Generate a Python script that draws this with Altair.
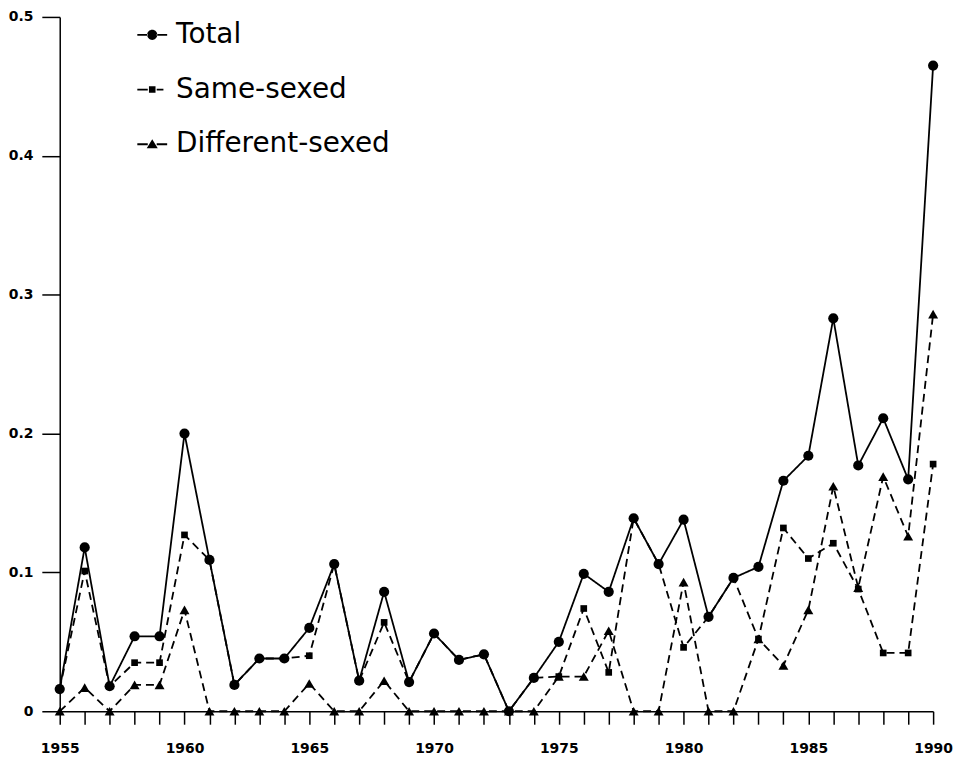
import altair as alt
import pandas as pd

years = list(range(1955, 1991))

total = [0.016, 0.118, 0.018, 0.054, 0.054, 0.200, 0.109, 0.019, 0.038, 0.038,
         0.060, 0.106, 0.022, 0.086, 0.021, 0.056, 0.037, 0.041, 0.000, 0.024,
         0.050, 0.099, 0.086, 0.139, 0.106, 0.138, 0.068, 0.096, 0.104, 0.166,
         0.184, 0.283, 0.177, 0.211, 0.167, 0.465]

same_sexed = [0.016, 0.101, 0.018, 0.035, 0.035, 0.127, 0.109, 0.019, 0.038, 0.038,
              0.040, 0.106, 0.022, 0.064, 0.021, 0.056, 0.037, 0.041, 0.000, 0.024,
              0.025, 0.074, 0.028, 0.139, 0.106, 0.046, 0.068, 0.096, 0.052, 0.132,
              0.110, 0.121, 0.088, 0.042, 0.042, 0.178]

different_sexed = [0.000, 0.017, 0.000, 0.019, 0.019, 0.073, 0.000, 0.000, 0.000, 0.000,
                   0.020, 0.000, 0.000, 0.022, 0.000, 0.000, 0.000, 0.000, 0.000, 0.000,
                   0.025, 0.025, 0.058, 0.000, 0.000, 0.093, 0.000, 0.000, 0.052, 0.033,
                   0.073, 0.162, 0.089, 0.169, 0.126, 0.286]

series_names = ["Total", "Same-sexed", "Different-sexed"]
y_ticks = [0, 0.1, 0.2, 0.3, 0.4, 0.5]

rows = []
for name, vals in zip(series_names, [total, same_sexed, different_sexed]):
    for yr, v in zip(years, vals):
        rows.append({"year": yr, "value": v, "series": name})
df = pd.DataFrame(rows)

x_enc = alt.X("year:Q", scale=alt.Scale(domain=[1955, 1990], nice=False, zero=False),
              axis=alt.Axis(title=None, values=years, format="d",
                            labelExpr="datum.value % 5 == 0 ? datum.label : ''",
                            tickSize=13, labelPadding=17, labelFlush=False))
y_enc = alt.Y("value:Q", scale=alt.Scale(domain=[0, 0.5], nice=False),
              axis=alt.Axis(title=None, values=y_ticks, format=".1~f",
                            tickSize=18, labelPadding=9, labelFlush=False))

lines = alt.Chart(df).mark_line(color="black", strokeWidth=1.8).encode(
    x=x_enc, y=y_enc,
    detail="series:N",
    strokeDash=alt.StrokeDash("series:N",
                              scale=alt.Scale(domain=series_names, range=[[1, 0], [8, 5], [8, 5]]),
                              legend=None),
)

points = alt.Chart(df).mark_point(filled=True, color="black", opacity=1).encode(
    x=x_enc, y=y_enc,
    shape=alt.Shape("series:N",
                    scale=alt.Scale(domain=series_names, range=["circle", "square", "triangle-up"]),
                    legend=None),
    size=alt.Size("series:N",
                  scale=alt.Scale(type="ordinal", domain=series_names, range=[105, 45, 100]),
                  legend=None),
)

# legend glyphs: short line segments (thin filled bars) with the marker in the middle
p_total = ("M-1,-0.06H-0.3V0.06H-1Z M0.3,-0.06H1V0.06H0.3Z "
           "M-0.34,0A0.34,0.34 0 1,0 0.34,0A0.34,0.34 0 1,0 -0.34,0Z")
p_same = ("M-1,-0.06H-0.3V0.06H-1Z M0.3,-0.06H0.75V0.06H0.3Z "
          "M-0.22,-0.22H0.22V0.22H-0.22Z")
p_diff = ("M-1,-0.06H-0.3V0.06H-1Z M0.3,-0.06H1V0.06H0.3Z "
          "M0,-0.34L0.37,0.26L-0.37,0.26Z")

legend_layer = alt.Chart(df).mark_point(filled=True, color="black", opacity=0, size=900).encode(
    x=x_enc, y=y_enc,
    shape=alt.Shape("series:N",
                    scale=alt.Scale(domain=series_names, range=[p_total, p_same, p_diff]),
                    legend=alt.Legend(title=None, orient="none", legendX=78, legendY=3,
                                      padding=0, symbolSize=900, rowPadding=26,
                                      labelOffset=9, labelFont="DejaVu Sans",
                                      labelFontSize=28, labelColor="black", labelLimit=0,
                                      symbolStrokeColor="black", symbolFillColor="black",
                                      symbolStrokeWidth=0, symbolOpacity=1)),
)

chart = alt.layer(lines, points, legend_layer).resolve_scale(shape="independent").properties(
    width=878, height=698,
    autosize=alt.AutoSizeParams(type="none"),
    padding={"left": 52, "top": 7, "right": 22, "bottom": 45},
    background="white",
).configure_view(stroke=None).configure_axis(
    grid=False, domainColor="black", domainWidth=1.5, tickColor="black", tickWidth=1.5,
    labelFont="DejaVu Sans", labelFontSize=14, labelFontWeight="bold", labelColor="black",
)

chart.save("out.html", embed_options={"renderer": "svg", "actions": False})
